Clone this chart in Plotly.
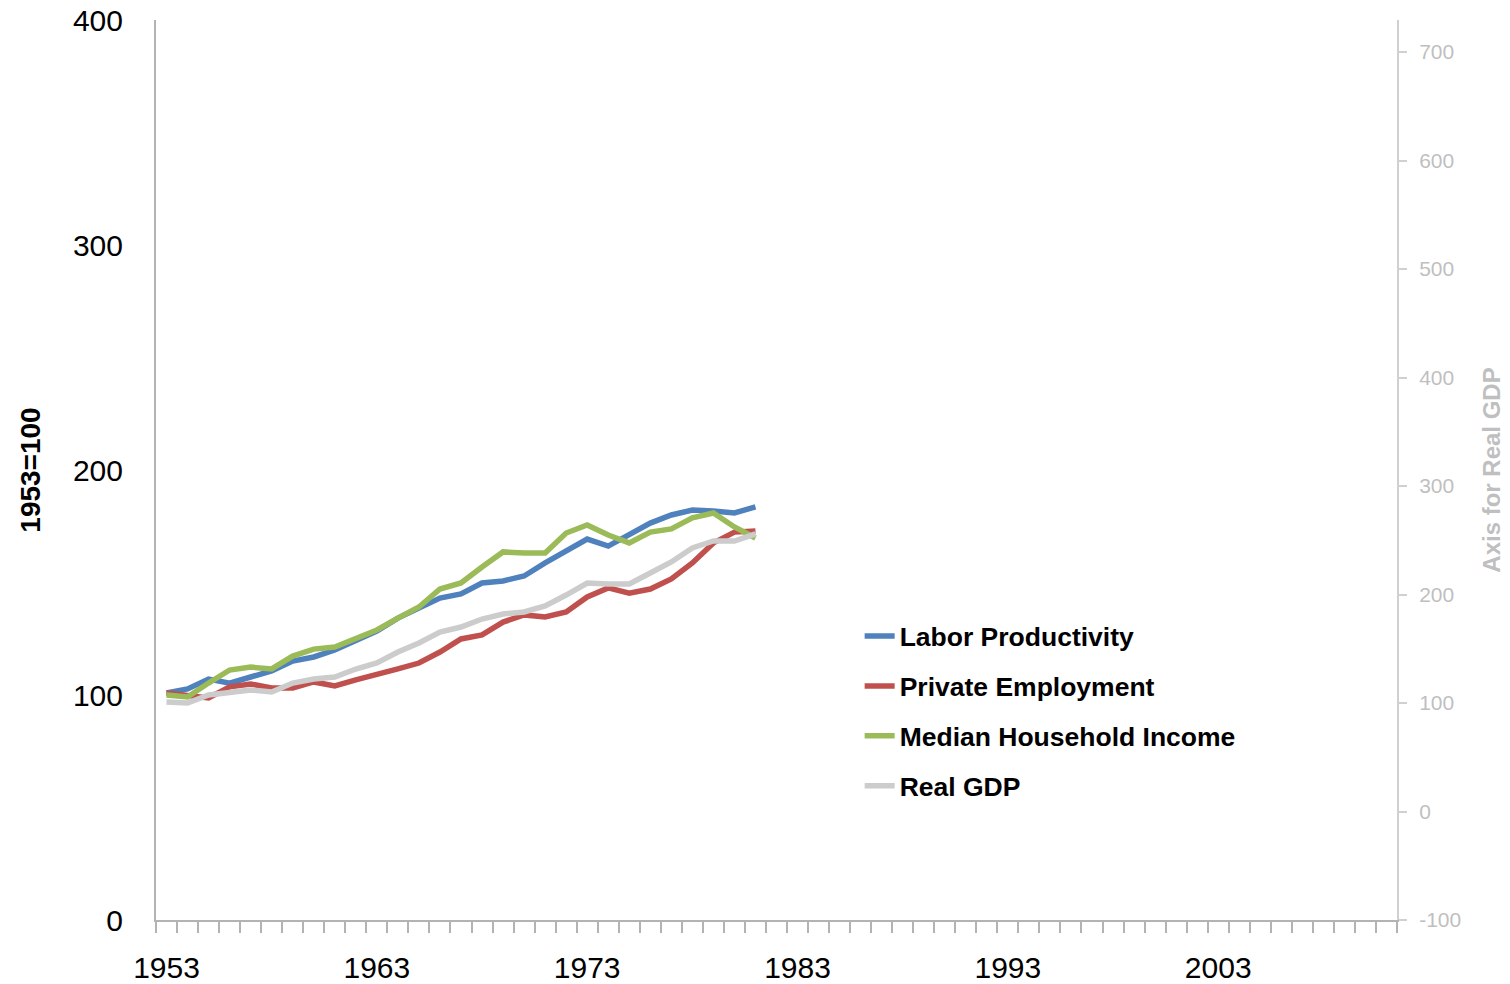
import plotly.graph_objects as go

years = list(range(1953, 1982))

labor_productivity = [100.9, 102.7, 107.1, 105.3, 108.0, 110.7, 115.1, 116.9, 120.0, 124.0,
                      128.4, 134.2, 138.7, 143.1, 144.9, 149.8, 150.7, 152.9, 158.7, 164.0,
                      169.3, 166.2, 171.1, 176.4, 180.0, 182.2, 181.8, 180.9, 183.6]

private_employment = [100.9, 99.6, 98.7, 103.6, 104.9, 103.1, 103.1, 105.8, 104.0, 106.7,
                      108.9, 111.6, 114.2, 119.1, 124.9, 126.7, 132.4, 135.6, 134.7, 136.9,
                      143.6, 147.6, 145.3, 147.1, 151.6, 158.7, 167.6, 172.4, 172.9]

median_household_income = [100.0, 99.1, 105.3, 111.1, 112.4, 111.6, 117.3, 120.4, 121.3, 124.9,
                           128.9, 134.2, 139.1, 147.1, 149.8, 156.9, 163.6, 163.1, 163.1, 172.0,
                           175.6, 171.1, 167.6, 172.4, 173.8, 178.7, 180.9, 174.7, 169.8]

real_gdp = [100.9, 100.0, 107.4, 109.2, 112.0, 110.1, 118.4, 122.1, 124.0, 131.3,
            136.9, 147.0, 155.3, 165.4, 170.0, 177.4, 182.0, 183.9, 189.4, 199.5,
            210.6, 209.7, 209.7, 219.8, 230.0, 242.9, 249.3, 249.3, 255.8]

x_tick_labels = [1953, 1963, 1973, 1983, 1993, 2003]
left_ticks = [0, 100, 200, 300, 400]
right_ticks = [-100, 0, 100, 200, 300, 400, 500, 600, 700]

FONT = "Liberation Sans"

fig = go.Figure()
series = [
    ("Labor Productivity", labor_productivity, "#4F81BD", "y"),
    ("Private Employment", private_employment, "#C0504D", "y"),
    ("Median Household Income", median_household_income, "#9BBB59", "y"),
    ("Real GDP", real_gdp, "#CCCCCC", "y2"),
]
for name, vals, color, ax in series:
    fig.add_trace(go.Scatter(
        x=years, y=vals, name=name, mode="lines", yaxis=ax,
        line=dict(color=color, width=5.5), legendgroup=name,
    ))

fig.update_layout(
    width=1502, height=976,
    margin=dict(l=148, r=113, t=12, b=64, autoexpand=False),
    paper_bgcolor="white", plot_bgcolor="white",
    font=dict(family=FONT, color="black"),
    showlegend=True,
    legend=dict(
        x=0.567, y=0.342, xanchor="left", yanchor="top",
        font=dict(family=FONT, size=26.5, color="black", weight="bold"),
        tracegroupgap=12.5, bgcolor="rgba(0,0,0,0)",
    ),
    xaxis=dict(
        range=[1952.5, 2011.5], tickmode="array", tickvals=x_tick_labels,
        ticktext=[str(v) for v in x_tick_labels], ticks="",
        showline=True, linecolor="#B3B3B3", linewidth=2,
        showgrid=False, zeroline=False, automargin=False,
        tickfont=dict(family=FONT, size=30, color="black"),
        ticklabelstandoff=20, ticklabeloverflow="allow",
        minor=dict(tick0=1952.5, dtick=1, ticks="outside", ticklen=11,
                   tickcolor="#B3B3B3", tickwidth=1.5, showgrid=False),
    ),
    yaxis=dict(
        range=[0, 400], tickmode="array", tickvals=left_ticks,
        showline=True, linecolor="#B3B3B3", linewidth=2,
        showgrid=False, zeroline=False, ticks="", automargin=False,
        tickfont=dict(family=FONT, size=30, color="black"),
        ticklabelstandoff=25, ticklabeloverflow="allow",
        title=dict(text="1953=100", font=dict(family=FONT, size=28, color="black", weight="bold"),
                   standoff=24),
    ),
    yaxis2=dict(
        range=[-100, 729.5], tickmode="array", tickvals=right_ticks,
        ticktext=[str(v) for v in right_ticks],
        overlaying="y", side="right", automargin=False,
        showline=True, linecolor="#D0D0D0", linewidth=2,
        showgrid=False, zeroline=False, ticks="outside", ticklen=8,
        tickcolor="#D0D0D0", tickwidth=1.5,
        tickfont=dict(family=FONT, size=21, color="#BFBFBF"),
        ticklabelstandoff=8, ticklabeloverflow="allow",
        title=dict(text="Axis for Real GDP", font=dict(family=FONT, size=24, color="#BFBFBF", weight="bold"),
                   standoff=23),
    ),
)

fig.write_html("out.html")
